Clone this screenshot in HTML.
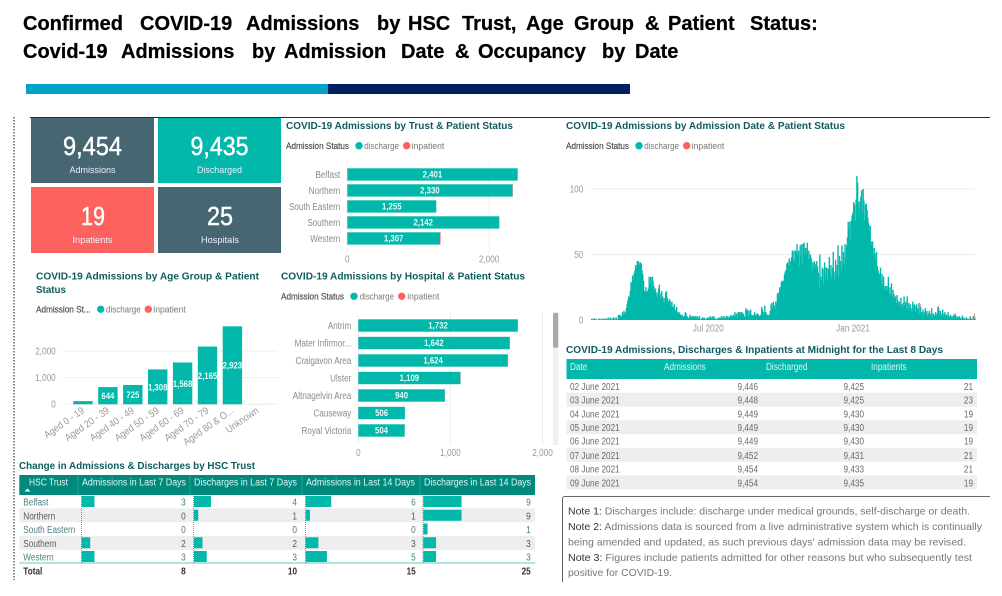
<!DOCTYPE html>
<html lang="en">
<head>
<meta charset="utf-8">
<title>Confirmed COVID-19 Admissions Dashboard</title>
<style>
html,body{margin:0;padding:0;background:#fff;}
body{width:1002px;height:596px;overflow:hidden;}
svg{display:block;font-family:"Liberation Sans",sans-serif;}
#dash{filter:blur(.35px);}
.ttl{font-size:10.5px;font-weight:bold;fill:#0f5c60;}
.leg{font-size:9.5px;fill:#777;}
.legh{font-size:9.5px;fill:#505050;stroke:#505050;stroke-width:.2px;}
.cell{font-size:10px;fill:#6b6b6b;}
.hd{font-size:10px;fill:#dff5f2;}
.kpi{font-size:26px;fill:#fff;stroke:#fff;stroke-width:.45px;text-anchor:middle;}
.kpil{font-size:9.5px;fill:#eef;text-anchor:middle;}
.note{font-size:10.5px;fill:#777;}
.note tspan{fill:#333;}
.r{text-anchor:end;}
</style>
</head>
<body>
<svg id="root" width="1002" height="596" viewBox="0 0 1002 596">
  <g font-weight="bold" font-size="20" fill="#000" stroke="#000" stroke-width=".25">
    <text y="30"><tspan x="23">Confirmed</tspan><tspan x="140">COVID-19</tspan><tspan x="246">Admissions</tspan><tspan x="377">by</tspan><tspan x="408">HSC</tspan><tspan x="462">Trust,</tspan><tspan x="526">Age</tspan><tspan x="574">Group</tspan><tspan x="645">&amp;</tspan><tspan x="668">Patient</tspan><tspan x="750">Status:</tspan></text>
    <text y="58"><tspan x="23">Covid-19</tspan><tspan x="121">Admissions</tspan><tspan x="252">by</tspan><tspan x="284">Admission</tspan><tspan x="401">Date</tspan><tspan x="455">&amp;</tspan><tspan x="478">Occupancy</tspan><tspan x="602">by</tspan><tspan x="635">Date</tspan></text>
  </g>
  <rect x="26" y="84" width="302" height="10" fill="#00a3c7"/>
  <rect x="328" y="84" width="302" height="10" fill="#002060"/>

  <g id="dash">
    <line x1="14" y1="117" x2="14" y2="580" stroke="#8a8a8a" stroke-width="2" stroke-dasharray="1.5 1.5"/>
    <line x1="30" y1="117.5" x2="990" y2="117.5" stroke="#1b2b5e" stroke-width="1"/>

    <g>
      <rect x="31" y="118" width="123" height="65" fill="#466672"/>
      <text class="kpi" x="92.5" y="155" textLength="59" lengthAdjust="spacingAndGlyphs">9,454</text>
      <text class="kpil" x="92.5" y="173" textLength="46" lengthAdjust="spacingAndGlyphs">Admissions</text>
      <rect x="158" y="118" width="123" height="65" fill="#01b8aa"/>
      <text class="kpi" x="219.5" y="155" textLength="58" lengthAdjust="spacingAndGlyphs">9,435</text>
      <text class="kpil" x="219.5" y="173" textLength="45" lengthAdjust="spacingAndGlyphs">Discharged</text>
      <rect x="31" y="187" width="123" height="66" fill="#fd625e"/>
      <text class="kpi" x="93" y="225" textLength="24" lengthAdjust="spacingAndGlyphs">19</text>
      <text class="kpil" x="92.5" y="243" textLength="40" lengthAdjust="spacingAndGlyphs">Inpatients</text>
      <rect x="158" y="187" width="123" height="66" fill="#466672"/>
      <text class="kpi" x="220" y="225" textLength="26" lengthAdjust="spacingAndGlyphs">25</text>
      <text class="kpil" x="220" y="243" textLength="38" lengthAdjust="spacingAndGlyphs">Hospitals</text>
    </g>

    <!-- Chart titles and legends -->
    <text class="ttl" x="286" y="129" textLength="227" lengthAdjust="spacingAndGlyphs">COVID-19 Admissions by Trust &amp; Patient Status</text>
    <g>
      <text class="legh" x="286" y="149" textLength="63" lengthAdjust="spacingAndGlyphs">Admission Status</text>
      <circle cx="359" cy="145.7" r="3.7" fill="#01b8aa"/>
      <text class="leg" x="364.3" y="149" textLength="34.7" lengthAdjust="spacingAndGlyphs">discharge</text>
      <circle cx="406.7" cy="145.7" r="3.7" fill="#fd625e"/>
      <text class="leg" x="411.7" y="149" textLength="32.6" lengthAdjust="spacingAndGlyphs">inpatient</text>
    </g>

    <text class="ttl" x="566" y="129" textLength="279" lengthAdjust="spacingAndGlyphs">COVID-19 Admissions by Admission Date &amp; Patient Status</text>
    <g>
      <text class="legh" x="566" y="149" textLength="63" lengthAdjust="spacingAndGlyphs">Admission Status</text>
      <circle cx="639" cy="145.7" r="3.7" fill="#01b8aa"/>
      <text class="leg" x="644.3" y="149" textLength="34.7" lengthAdjust="spacingAndGlyphs">discharge</text>
      <circle cx="686.7" cy="145.7" r="3.7" fill="#fd625e"/>
      <text class="leg" x="691.7" y="149" textLength="32.6" lengthAdjust="spacingAndGlyphs">inpatient</text>
    </g>

    <text class="ttl" x="36" y="279.5" textLength="223" lengthAdjust="spacingAndGlyphs">COVID-19 Admissions by Age Group &amp; Patient</text>
    <text class="ttl" x="36" y="293" textLength="30" lengthAdjust="spacingAndGlyphs">Status</text>
    <g>
      <text class="legh" x="36" y="312.6" textLength="54.7" lengthAdjust="spacingAndGlyphs">Admission St...</text>
      <circle cx="100.7" cy="309.3" r="3.7" fill="#01b8aa"/>
      <text class="leg" x="106" y="312.6" textLength="34.7" lengthAdjust="spacingAndGlyphs">discharge</text>
      <circle cx="148.3" cy="309.3" r="3.7" fill="#fd625e"/>
      <text class="leg" x="153.3" y="312.6" textLength="32.4" lengthAdjust="spacingAndGlyphs">inpatient</text>
    </g>

    <text class="ttl" x="281" y="279.5" textLength="244" lengthAdjust="spacingAndGlyphs">COVID-19 Admissions by Hospital &amp; Patient Status</text>
    <g>
      <text class="legh" x="281" y="299.6" textLength="63" lengthAdjust="spacingAndGlyphs">Admission Status</text>
      <circle cx="354" cy="296.3" r="3.7" fill="#01b8aa"/>
      <text class="leg" x="359.7" y="299.6" textLength="34.3" lengthAdjust="spacingAndGlyphs">discharge</text>
      <circle cx="401.7" cy="296.3" r="3.7" fill="#fd625e"/>
      <text class="leg" x="407.3" y="299.6" textLength="32" lengthAdjust="spacingAndGlyphs">inpatient</text>
    </g>
    <rect x="553" y="312.7" width="5.3" height="132.3" fill="#f0f0f0"/>
    <rect x="553" y="312.7" width="5.3" height="35" rx="1.5" fill="#aaaaaa"/>

    <g id="trust-chart"></g>
    <g id="hospital-chart"></g>
    <g id="age-chart"></g>
    <g id="date-chart"></g>

    <!-- Midnight table -->
    <text class="ttl" x="566" y="353" textLength="377" lengthAdjust="spacingAndGlyphs">COVID-19 Admissions, Discharges &amp; Inpatients at Midnight for the Last 8 Days</text>
    <g>
      <rect x="566.5" y="359" width="410.5" height="20" fill="#01b8aa"/>
      <text class="hd" x="570" y="370">Date</text>
      <text class="hd" x="664" y="370">Admissions</text>
      <text class="hd" x="766" y="370">Discharged</text>
      <text class="hd" x="871" y="370">Inpatients</text>
      <rect x="566.5" y="392.7" width="410.5" height="14" fill="#eeeeee"/>
      <rect x="566.5" y="420.3" width="410.5" height="14" fill="#eeeeee"/>
      <rect x="566.5" y="447.8" width="410.5" height="14" fill="#eeeeee"/>
      <rect x="566.5" y="475.4" width="410.5" height="14" fill="#eeeeee"/>
      <g><text class="cell" x="570" y="390">02 June 2021</text><text class="cell r" x="758" y="390">9,446</text><text class="cell r" x="864" y="390">9,425</text><text class="cell r" x="973" y="390">21</text></g>
      <g><text class="cell" x="570" y="403.6">03 June 2021</text><text class="cell r" x="758" y="403.6">9,448</text><text class="cell r" x="864" y="403.6">9,425</text><text class="cell r" x="973" y="403.6">23</text></g>
      <g><text class="cell" x="570" y="417.3">04 June 2021</text><text class="cell r" x="758" y="417.3">9,449</text><text class="cell r" x="864" y="417.3">9,430</text><text class="cell r" x="973" y="417.3">19</text></g>
      <g><text class="cell" x="570" y="431">05 June 2021</text><text class="cell r" x="758" y="431">9,449</text><text class="cell r" x="864" y="431">9,430</text><text class="cell r" x="973" y="431">19</text></g>
      <g><text class="cell" x="570" y="444.6">06 June 2021</text><text class="cell r" x="758" y="444.6">9,449</text><text class="cell r" x="864" y="444.6">9,430</text><text class="cell r" x="973" y="444.6">19</text></g>
      <g><text class="cell" x="570" y="459">07 June 2021</text><text class="cell r" x="758" y="459">9,452</text><text class="cell r" x="864" y="459">9,431</text><text class="cell r" x="973" y="459">21</text></g>
      <g><text class="cell" x="570" y="472.6">08 June 2021</text><text class="cell r" x="758" y="472.6">9,454</text><text class="cell r" x="864" y="472.6">9,433</text><text class="cell r" x="973" y="472.6">21</text></g>
      <g><text class="cell" x="570" y="486.3">09 June 2021</text><text class="cell r" x="758" y="486.3">9,454</text><text class="cell r" x="864" y="486.3">9,435</text><text class="cell r" x="973" y="486.3">19</text></g>
    </g>

    <!-- Notes -->
    <g>
      <path d="M562.5 582 V499 Q562.5 496.5 565 496.5 H990" fill="none" stroke="#666" stroke-width="1"/>
      <text class="note" x="568" y="514.5" textLength="402" lengthAdjust="spacingAndGlyphs"><tspan>Note 1:</tspan> Discharges include: discharge under medical grounds, self-discharge or death.</text>
      <text class="note" x="568" y="530" textLength="414" lengthAdjust="spacingAndGlyphs"><tspan>Note 2:</tspan> Admissions data is sourced from a live administrative system which is continually</text>
      <text class="note" x="568" y="545.5" textLength="398" lengthAdjust="spacingAndGlyphs">being amended and updated, as such previous days' admission data may be revised.</text>
      <text class="note" x="568" y="561" textLength="404" lengthAdjust="spacingAndGlyphs"><tspan>Note 3:</tspan> Figures include patients admitted for other reasons but who subsequently test</text>
      <text class="note" x="568" y="576" textLength="104" lengthAdjust="spacingAndGlyphs">positive for COVID-19.</text>
    </g>

    <!-- Change table -->
    <text class="ttl" x="19" y="469" textLength="236" lengthAdjust="spacingAndGlyphs">Change in Admissions &amp; Discharges by HSC Trust</text>
    <g>
      <rect x="19.3" y="475" width="515.7" height="20" fill="#008a7e"/>
      <text class="hd" x="29" y="485.5" textLength="39" lengthAdjust="spacingAndGlyphs">HSC Trust</text>
      <path d="M24.5 491.5 L27.5 488.5 L30.5 491.5 Z" fill="#fff"/>
      <text class="hd" x="82" y="485.5" textLength="104" lengthAdjust="spacingAndGlyphs">Admissions in Last 7 Days</text>
      <text class="hd" x="194" y="485.5" textLength="103" lengthAdjust="spacingAndGlyphs">Discharges in Last 7 Days</text>
      <text class="hd" x="306" y="485.5" textLength="109" lengthAdjust="spacingAndGlyphs">Admissions in Last 14 Days</text>
      <text class="hd" x="424" y="485.5" textLength="107" lengthAdjust="spacingAndGlyphs">Discharges in Last 14 Days</text>
      <line x1="78" y1="475" x2="78" y2="495" stroke="#2aa398"/>
      <line x1="190" y1="475" x2="190" y2="495" stroke="#2aa398"/>
      <line x1="302" y1="475" x2="302" y2="495" stroke="#2aa398"/>
      <line x1="420" y1="475" x2="420" y2="495" stroke="#2aa398"/>
      <rect x="19.3" y="508.3" width="515.7" height="14" fill="#eeeeee"/>
      <rect x="19.3" y="536" width="515.7" height="14" fill="#eeeeee"/>
      <line x1="19.3" y1="563" x2="535" y2="563" stroke="#7fd4cc" stroke-width="1.2"/>
      <g id="change-rows"></g>
    </g>
  </g>
</svg>

<script>
// ----- Trust chart data -----
const trustCategories = ["Belfast", "Northern", "South Eastern", "Southern", "Western"];
const trustDischarge = [2401, 2330, 1255, 2142, 1307];
const trustInpatient = [3, 4, 1, 3, 8];
const trustTicks = [0, 2000];

// ----- Hospital chart data -----
const hospitalCategories = ["Antrim", "Mater Infirmor...", "Craigavon Area", "Ulster", "Altnagelvin Area", "Causeway", "Royal Victoria"];
const hospitalDischarge = [1732, 1642, 1624, 1109, 940, 506, 504];
const hospitalInpatient = [2, 4, 3, 2, 1, 0, 0];
const hospitalTicks = [0, 1000, 2000];

// ----- Age chart data -----
const ageCategories = ["Aged 0 - 19", "Aged 20 - 39", "Aged 40 - 49", "Aged 50 - 59", "Aged 60 - 69", "Aged 70 - 79", "Aged 80 & O...", "Unknown"];
const ageDischarge = [120, 644, 725, 1308, 1568, 2165, 2923, 1];
const ageShowLabel = [false, true, true, true, true, true, true, false];
const ageTicks = [0, 1000, 2000];

// ----- Daily admissions (discharge status), one value per day -----
const dailyDischarge = [
1,0,1,1,1,0,1,0,0,1,1,0, 1,0,1,0,1,1,0,1,0,2, 0,1,2,0,1,1,2,1,0,2, 1,0,4,3,4,3,2,6,4,7,
5,6,9,12,15,18,17,22,29,28, 34,30,36,38,42,40,45,45,44,42, 44,43,38,35,30,22,22,25,21,22,
24,33,27,33,28,33,30,26,22,24, 19,21,17,24,27,20,16,22,18,14, 17,13,21,22,17,15,13,16,14,11,
14,10,9,12,8,7,10,6,5,6, 5,4,3,4,3,2,3,6,5,3, 2,1,2,4,3,2, 3,2,3,2,3,1,3,2,1,3,
0,1,1,2,1,2,0,1,1,2, 2,1,2,3,1,2,3,1,2,1, 1,0,1,2,1,2,1,3,2,1, 3,2,1,3,2,3,1,2,3,4,
2,3,4,3,6,3,5,2,6,6, 6,3,6,6,4,5,3,2,9,7, 8,3,7,4,8,4,3,4,3,6, 4,3,5,5,4,3,3,4,10,8,
6,4,11,6,5,4,3,4,4,7, 12,13,9,14,11,8,14,12,20,21, 17,25,23,29,30,29,30,35,37,38,
43,44,42,47,41,45,48,53,46,53, 44,53,52,58,50,53,41,57,48,58, 43,58,59,50,55,51,59,46,53,48,
50,47,38,44,40,45,43,40,45,41, 36,25,50,33,30,40,39,27,44,33, 40,40,31,39,48,35,42,32,40,52,
37,30,46,35,42,57,33,49,45,39, 57,44,52,43,58,48,57,63,75,70, 75,62,76,80,82,90,88,76,92,110,
105,90,85,91,94,99,82,100,91,76, 88,89,84,78,74,68,72,57,60,60, 50,55,51,46,52,41,38,36,34,40,
30,35,27,33,24,26,22,26,23,33, 20,25,19,28,18,23,20,16,18,13, 19,15,12,14,11,17,12,9,13,18,
11,14,8,18,9,13,7,12,9,6, 14,8,12,11,6,12,7,9,13,5, 10,5,6,8,3,6,9,4,7,3,
5,7,3,5,9,2,5,4,3,6, 3,5,10,9,4,7,3,5,8,3, 5,6,3,4,2,6,3,2,4,2,
3,1,4,2,5,2,3,1,2,3, 2,1,1,3,1,2,1,0,2,1, 1,0,1,3,1,1,0,3,1,2
];
const inpatientDayIndex = [18, 156, 334, 346, 392, 418, 430, 441, 447, 471, 482, 487, 489];
const inpatientDayCount = [1, 1, 1, 1, 1, 2, 1, 2, 1, 1, 1, 3, 3];
const dateTickLabels = ["Jul 2020", "Jan 2021"];
const dateTickDayIndex = [149, 333];
const dateValueTicks = [0, 50, 100];

// ----- Change table data -----
const changeTrusts = ["Belfast", "Northern", "South Eastern", "Southern", "Western"];
const admissions7 = [3, 0, 0, 2, 3];
const discharges7 = [4, 1, 0, 2, 3];
const admissions14 = [6, 1, 0, 3, 5];
const discharges14 = [9, 9, 1, 3, 3];
const changeTotals = [8, 10, 15, 25];

const NS = "http://www.w3.org/2000/svg";
const TEAL = "#01b8aa", RED = "#fd625e", GRID = "#eeeeee", AXIS = "#999999";
const fmt = v => v.toLocaleString("en-US");

function mk(tag, attrs, parent, text) {
  const e = document.createElementNS(NS, tag);
  for (const k in attrs) e.setAttribute(k, attrs[k]);
  if (text !== undefined) e.textContent = text;
  parent.appendChild(e);
  return e;
}

// Horizontal stacked bars
function hBars(parent, cats, dis, inp, ticks, cfg) {
  const x = v => cfg.x0 + v * cfg.pxPerUnit;
  const y = i => cfg.top + i * cfg.pitch;
  ticks.forEach(t => {
    const g = mk("line", {x1: x(t), x2: x(t), y1: cfg.gridTop, y2: cfg.gridBottom, stroke: GRID}, parent);
    
    
    const l = mk("text", {x: x(t), y: cfg.tickY, "text-anchor": "middle", "font-size": 10, fill: AXIS}, parent, fmt(t));
    
    
  });
  cats.forEach((c, i) => {
    const l = mk("text", {x: cfg.x0 - 7, y: y(i) + cfg.h / 2 + 3.3, "text-anchor": "end", "font-size": 10, fill: "#8a8a8a", fit: 0.81}, parent, c);
    
    
    const b = mk("rect", {x: x(0), y: y(i), width: x(dis[i]) - x(0), height: cfg.h, fill: TEAL}, parent);
    
    
    const r = mk("rect", {x: x(dis[i]), y: y(i), width: x(inp[i]) - x(0), height: cfg.h, fill: RED}, parent);
    
    
    const v = mk("text", {x: (x(0) + x(dis[i])) / 2, y: y(i) + cfg.h / 2 + 3.2, "text-anchor": "middle", "font-size": 9.5, "font-weight": "bold", fill: "#eafaf8"}, parent, fmt(dis[i]));
    
    
  });
}

hBars(document.getElementById("trust-chart"), trustCategories, trustDischarge, trustInpatient, trustTicks,
  {x0: 347.3, pxPerUnit: 0.0709, top: 168.3, pitch: 16, h: 12.3, gridTop: 161.7, gridBottom: 253, tickY: 262.3});
hBars(document.getElementById("hospital-chart"), hospitalCategories, hospitalDischarge, hospitalInpatient, hospitalTicks,
  {x0: 358.3, pxPerUnit: 0.0921, top: 319.3, pitch: 17.5, h: 12.4, gridTop: 311.7, gridBottom: 445, tickY: 456});

// Age columns
(function () {
  const p = document.getElementById("age-chart");
  const y = v => 404.3 - v * 0.02667;
  const cx = i => 83 + i * 24.9;
  ageTicks.forEach(t => {
    const g = mk("line", {x1: 63, x2: 278, y1: y(t), y2: y(t), stroke: GRID}, p);
    
    
    const l = mk("text", {x: 55.7, y: y(t) + 3.4, "text-anchor": "end", "font-size": 10, fill: AXIS}, p, fmt(t));
    
    
  });
  ageCategories.forEach((c, i) => {
    const b = mk("rect", {x: cx(i) - 9.7, y: y(ageDischarge[i]), width: 19.4, height: y(0) - y(ageDischarge[i]), fill: TEAL}, p);
    
    
    if (ageShowLabel[i]) {
      const v = mk("text", {x: cx(i), y: (y(0) + y(ageDischarge[i])) / 2 + 3.4, "text-anchor": "middle", "font-size": 9.5, "font-weight": "bold", fill: "#eafaf8"}, p, fmt(ageDischarge[i]));
      
      
    }
    const lx = cx(i) + 2, ly = 412;
    const l = mk("text", {x: lx, y: ly, "text-anchor": "end", "font-size": 10, fill: AXIS, fit: 0.9, transform: "rotate(-35 " + lx + " " + ly + ")"}, p, c);
    
    
  });
})();

// Daily admissions columns
(function () {
  const p = document.getElementById("date-chart");
  const step = 384 / dailyDischarge.length;
  const x = i => 591 + i * step;
  const y = v => 320 - v * 1.31;
  dateValueTicks.forEach(t => {
    if (t > 0) {
      const g = mk("line", {x1: 591, x2: 975, y1: y(t), y2: y(t), stroke: "#efefef", "stroke-width": 1.2}, p);
      
      
    }
    const l = mk("text", {x: 583.3, y: y(t) + 3.4, "text-anchor": "end", "font-size": 10, fill: AXIS}, p, fmt(t));
    
    
  });
  dailyDischarge.forEach((v, i) => {
    const b = mk("rect", {x: x(i), y: y(v), width: step + 0.6, height: y(0) - y(v), fill: TEAL}, p);
    
    
  });
  inpatientDayIndex.forEach((d, k) => {
    const base = dailyDischarge[d];
    const r = mk("rect", {x: x(d), y: y(base + inpatientDayCount[k]), width: step, height: y(base) - y(base + inpatientDayCount[k]), fill: RED}, p);
    
    
  });
  dateTickLabels.forEach((t, k) => {
    const l = mk("text", {x: x(dateTickDayIndex[k]), y: 331.5, "text-anchor": "middle", "font-size": 10, fill: AXIS}, p, t);
    
    
  });
})();

// Change table rows
(function () {
  const p = document.getElementById("change-rows");
  const cols = [
    {values: admissions7, start: 81.7, right: 185.7},
    {values: discharges7, start: 194, right: 297},
    {values: admissions14, start: 305.7, right: 415.7},
    {values: discharges14, start: 423.3, right: 530.7}
  ];
  const unit = 4.25;
  const rowY = i => 496 + i * 13.75;
  const tint = i => (i % 2 ? "#5a5a5a" : "#4c7f80");
  cols.forEach(c => {
    const a = mk("line", {x1: c.start - 0.3, x2: c.start - 0.3, y1: 496, y2: 563, stroke: "#666", "stroke-width": 0.7, "stroke-dasharray": "1 1"}, p);
    
    
  });
  changeTrusts.forEach((t, i) => {
    const l = mk("text", {x: 23.3, y: rowY(i) + 9.5, "font-size": 10, fill: tint(i)}, p, t);
    
    
    cols.forEach(c => {
      const b = mk("rect", {x: c.start, y: rowY(i), width: c.values[i] * unit, height: 11, fill: TEAL}, p);
      
      
      const v = mk("text", {x: c.right, y: rowY(i) + 9.5, "text-anchor": "end", "font-size": 10, fill: tint(i)}, p, String(c.values[i]));
      
      
    });
  });
  const tl = mk("text", {x: 23.3, y: 574.6, "font-size": 10, "font-weight": "bold", fill: "#333"}, p, "Total");
  
  
  cols.forEach((c, k) => {
    const v = mk("text", {x: c.right, y: 574.6, "text-anchor": "end", "font-size": 10, "font-weight": "bold", fill: "#333"}, p, String(changeTotals[k]));
    
    
  });
})();

// Condense text to approximate the narrower report typeface
document.querySelectorAll("#dash text").forEach(t => {
  if (!t.hasAttribute("textLength")) {
    const factor = parseFloat(t.getAttribute("fit")) || 0.82;
    t.setAttribute("textLength", (t.getComputedTextLength() * factor).toFixed(1));
    t.setAttribute("lengthAdjust", "spacingAndGlyphs");
  }
});
</script>
</body>
</html>
